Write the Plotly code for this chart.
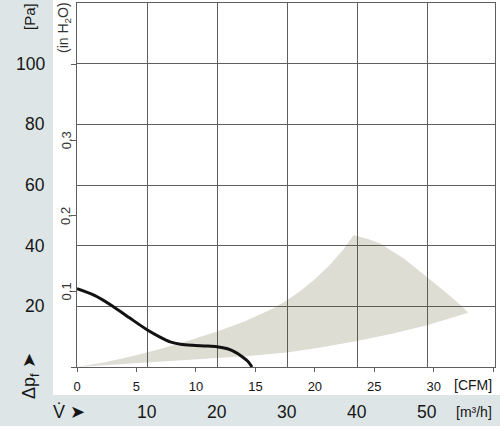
import plotly.graph_objects as go

# ---------------- data ----------------
# fan curve: volume flow (m³/h) vs static pressure (Pa)
curve_flow_m3h = [0, 2.5, 5, 7.5, 10, 12, 13.3, 14.8, 16.5, 18.5, 20, 21.5, 22.6, 23.6, 24.4, 25]
curve_pressure_pa = [25.8, 23.6, 20.2, 16.2, 12.3, 9.7, 8.3, 7.5, 7.15, 6.95, 6.7, 6.0, 4.9, 3.4, 1.9, 0]

# shaded operating range (boundary, clockwise)
range_upper_m3h = [0, 4, 8, 12, 16, 20, 24, 28, 30, 32, 34, 36, 38, 39.5]
range_upper_pa = [0, 1.6, 3.6, 6.0, 8.7, 11.7, 15.1, 19.3, 22.0, 25.2, 29.0, 33.4, 38.6, 43.4]
range_right_m3h = [41.5, 43.3, 46.7, 50, 52.5, 55, 55.9]
range_right_pa = [42.3, 40.7, 35.8, 29.7, 25.0, 20.0, 17.9]
range_lower_m3h = [50, 45, 40, 35, 30, 25, 20, 10, 0]
range_lower_pa = [13.8, 11.0, 8.6, 6.5, 4.8, 3.7, 3.0, 1.4, 0]

# tick labels
pa_ticks = [20, 40, 60, 80, 100]
m3h_ticks = [10, 20, 30, 40, 50]
cfm_ticks = [0, 5, 10, 15, 20, 25, 30, 35]
cfm_labels = ["0", "5", "10", "15", "20", "25", "30", ""]
inh2o_ticks = [0, 0.1, 0.2, 0.3, 0.4]
inh2o_labels = {0.1: "0,1", 0.2: "0,2", 0.3: "0,3"}

M3H_PER_CFM = 1.699
PA_PER_INH2O = 249.089

# ---------------- geometry ----------------
W, H = 500, 431
ML, MR, MT, MB = 77, 5, 3, 64
PW = W - ML - MR
PH = H - MT - MB
X_MAX = PW / 7.0          # 7 px per m³/h
Y_MAX = 120

def px(xp):
    return (xp - ML) / PW

def py(yp):
    return (H - MB - yp) / PH

FONT = "Liberation Sans"
GRID = "#5e5e5e"
STRIP = "#dde5e6"
TXT = "#161616"

fig = go.Figure()

poly_x = range_upper_m3h + range_right_m3h + range_lower_m3h
poly_y = range_upper_pa + range_right_pa + range_lower_pa
fig.add_trace(go.Scatter(
    x=poly_x, y=poly_y, mode="lines", fill="toself",
    fillcolor="rgba(90,85,40,0.2)", line=dict(width=0),
    hoverinfo="skip", showlegend=False, xaxis="x", yaxis="y"))

# curve drawn on the CFM / inH2O axes (same scale as m³/h / Pa)
fig.add_trace(go.Scatter(
    x=[v / M3H_PER_CFM for v in curve_flow_m3h],
    y=[v / PA_PER_INH2O for v in curve_pressure_pa],
    mode="lines", xaxis="x2", yaxis="y2",
    line=dict(color="#111111", width=3, shape="spline", smoothing=0.8),
    showlegend=False))

shapes = [
    dict(type="rect", xref="paper", yref="paper", x0=px(0), x1=px(53),
         y0=py(426), y1=py(0), fillcolor=STRIP, line=dict(width=0), layer="below"),
    dict(type="rect", xref="paper", yref="paper", x0=px(0), x1=px(500),
         y0=py(426), y1=py(395), fillcolor=STRIP, line=dict(width=0), layer="below"),
]

def ann(x, y, text, size, xref="paper", yref="paper", angle=0, xanchor="center",
        color=TXT):
    return dict(x=x, y=y, xref=xref, yref=yref, text=text, textangle=angle,
                xanchor=xanchor, yanchor="middle", showarrow=False,
                font=dict(family=FONT, size=size, color=color))

annotations = []
for v in pa_ticks:
    annotations.append(ann(px(46.5), v, str(v), 17.5, yref="y", xanchor="right"))
for v in m3h_ticks:
    annotations.append(ann(v, py(411.5), str(v), 17.5, xref="x"))
for v, t in inh2o_labels.items():
    annotations.append(ann(px(66), v, t, 13, yref="y2", angle=-90, color="#333333"))
annotations += [
    ann(px(64), py(28), "(in H<sub>2</sub>O)", 14, angle=-90, color="#333333"),
    ann(px(30), py(17), "[Pa]", 15, angle=-90),
    ann(px(31), py(376), "Δp<sub>f</sub> ➤", 18, angle=-90),
    ann(px(69), py(411.5), "V\u0307 ➤", 18),
    ann(px(494), py(411.5), "[m³/h]", 14, xanchor="right"),
    ann(px(494), py(385), "[CFM]", 14, xanchor="right"),
]

fig.update_layout(
    width=W, height=H,
    margin=dict(l=ML, r=MR, t=MT, b=MB, pad=0),
    paper_bgcolor="white", plot_bgcolor="white",
    shapes=shapes, annotations=annotations,
    xaxis=dict(range=[0, X_MAX], tickvals=m3h_ticks, showticklabels=False, ticks="",
               showgrid=True, gridcolor=GRID, gridwidth=1.4, zeroline=False,
               showline=True, linecolor=GRID, linewidth=1.4, mirror=True),
    yaxis=dict(range=[0, Y_MAX], tickvals=pa_ticks, showticklabels=False, ticks="",
               showgrid=True, gridcolor=GRID, gridwidth=1.4, zeroline=False,
               showline=True, linecolor=GRID, linewidth=1.4, mirror=True),
    xaxis2=dict(overlaying="x", anchor="y", side="bottom",
                range=[0, X_MAX / M3H_PER_CFM], tickvals=cfm_ticks, ticktext=cfm_labels,
                ticks="outside", ticklen=4, tickwidth=1, tickcolor=GRID,
                ticklabelstandoff=3,
                showgrid=False, zeroline=False, showline=False,
                tickfont=dict(family=FONT, size=13, color=TXT)),
    yaxis2=dict(overlaying="y", anchor="x", side="left",
                range=[0, Y_MAX / PA_PER_INH2O], tickvals=inh2o_ticks,
                showticklabels=False, ticks="outside", ticklen=5, tickwidth=1,
                tickcolor=GRID, showgrid=False, zeroline=False, showline=False),
)

fig.write_html("out.html", config={"displayModeBar": False},
               post_script="document.body.style.margin='0';")
